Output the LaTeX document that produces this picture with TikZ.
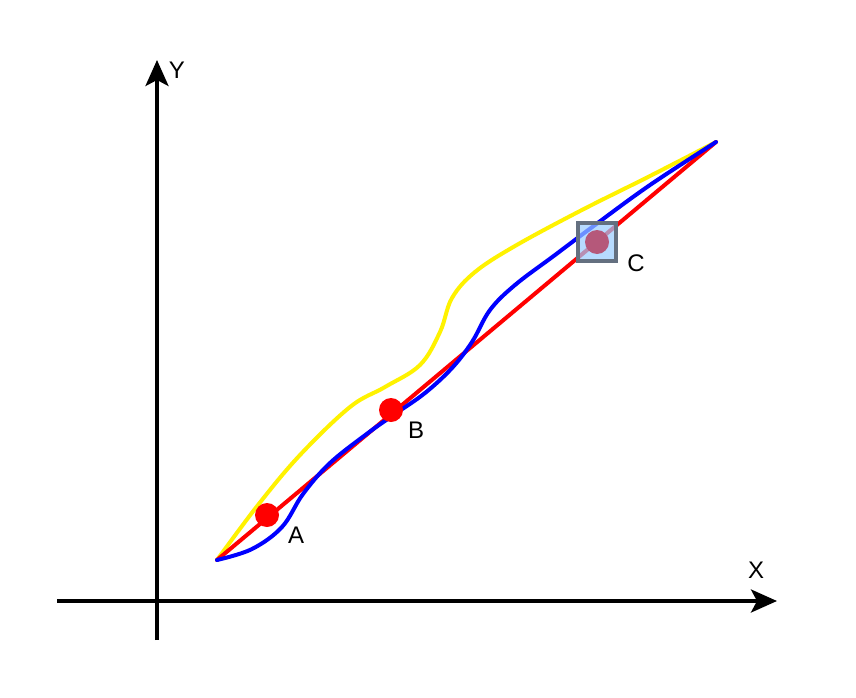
\documentclass[tikz,border=0pt]{standalone}
\usepackage{fontspec}
\setmainfont{Liberation Sans}
\usetikzlibrary{arrows.meta}
\begin{document}
\begin{tikzpicture}[x=1pt,y=-1pt,
  axis/.style={line width=3.5pt,-{Stealth[length=26pt,width=23pt,inset=6pt]}},
  curve/.style={line width=4pt,line cap=round,line join=round},
  dot/.style={circle,fill=red,minimum size=24pt,inner sep=0pt},
  lbl/.style={font=\fontsize{24}{24}\selectfont}]
\useasboundingbox (0,0) rectangle (856,698);
\coordinate (xs) at (57,601);
\coordinate (xe) at (777,601);
\coordinate (ys) at (157,640);
\coordinate (ye) at (157,60);
\draw[axis] (xs) -- (xe);
\draw[axis] (ys) -- (ye);
\node[lbl] (X) at (756,570) {X};
\node[lbl] (Y) at (177,70) {Y};
\coordinate (P0) at (217,560);
\coordinate (P1) at (716,142);
% yellow
\draw[curve,yellow] plot[smooth,tension=0.6] coordinates {(217,560) (258,505) (300,455) (350,407) (385,387) (420,365) (440,332) (452,298) (475,272) (515,246) (580,211) (650,176) (716,142)};
% red
\draw[curve,red] (P0) -- (P1);
% blue
\draw[curve,blue] plot[smooth,tension=0.6] coordinates {(217,560) (252,549) (282,527) (303,494) (330,463) (368,433) (395,414) (425,393) (452,368) (472,342) (490,310) (515,285) (555,255) (595,225) (650,185) (716,142)};
\node[dot] (A) at (267,515) {};
\node[dot] (B) at (391,410) {};
\node[draw={rgb,255:red,100;green,112;blue,128},line width=3.5pt,fill={rgb,255:red,153;green,204;blue,255},fill opacity=0.7,minimum size=38pt,inner sep=0pt] (Cbox) at (597,242) {};
\node[circle,fill={rgb,255:red,181;green,88;blue,122},minimum size=24pt,inner sep=0pt] (C) at (597,242) {};
\node[lbl] (la) at (296,535) {A};
\node[lbl] (lb) at (416,430) {B};
\node[lbl] (lc) at (636,263) {C};
\end{tikzpicture}
\end{document}
